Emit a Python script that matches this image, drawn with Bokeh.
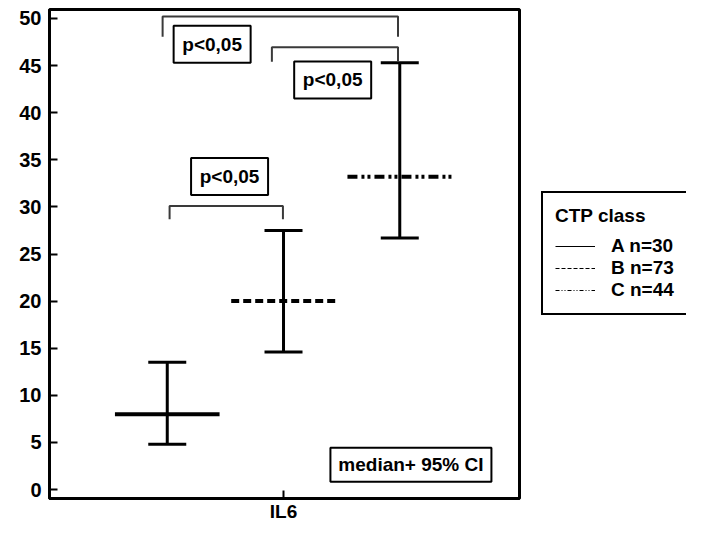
from bokeh.plotting import figure
from bokeh.layouts import row
from bokeh.models import (ColumnDataSource, Range1d, FixedTicker, Whisker, TeeHead,
                          Legend, LegendItem)
from bokeh.core.properties import value
from bokeh.embed import file_html
from bokeh.resources import INLINE

# ---- data ----
groups = ["A", "B", "C"]
group_n = [30, 73, 44]
group_pos = [1, 2, 3]
medians = [8.0, 20.0, 33.2]
ci_low = [4.8, 14.6, 26.7]
ci_high = [13.5, 27.5, 45.3]
category_label = "IL6"
legend_title = "CTP class"
y_ticks = [0, 5, 10, 15, 20, 25, 30, 35, 40, 45, 50]

# significance brackets
br_left = [0.96, 1.90, 1.02]
br_right = [2.985, 2.985, 1.995]
br_top = [50.2, 46.95, 30.1]
br_drop_left = [48.05, 45.4, 28.7]
br_drop_right = [48.05, 45.4, 28.7]
p_text = ["p<0,05", "p<0,05", "p<0,05"]
p_x = [1.386, 2.423, 1.536]
p_y = [47.27, 43.47, 33.23]
note_text = ["median+ 95% CI"]
note_x = [3.096]
note_y = [2.62]

FONT = "Liberation Sans"
H = 524

p = figure(width=522, height=H, output_backend="svg", toolbar_location=None,
           x_range=Range1d(-0.013, 4.03), y_range=Range1d(-0.95, 50.95),
           min_border_left=49, min_border_top=9, min_border_bottom=25,
           min_border_right=3)
p.grid.visible = False
p.outline_line_color = "black"
p.outline_line_width = 3
p.background_fill_color = "white"

# axes
for ax in (p.xaxis[0], p.yaxis[0]):
    ax.axis_line_width = 3
    ax.axis_line_color = "black"
    ax.major_tick_in = 8
    ax.major_tick_out = 0
    ax.major_tick_line_width = 2
    ax.minor_tick_line_color = None
    ax.major_label_text_font = FONT
    ax.major_label_text_font_style = "bold"
    ax.major_label_text_color = "black"
p.yaxis.major_label_text_font_size = "20px"
p.xaxis.major_label_text_font_size = "19px"
p.yaxis.ticker = FixedTicker(ticks=y_ticks)
p.yaxis.major_label_standoff = 8
p.xaxis.ticker = FixedTicker(ticks=[group_pos[1]])
p.xaxis.major_label_overrides = {group_pos[1]: category_label}
p.xaxis.major_label_standoff = 2

# confidence intervals
src = ColumnDataSource(dict(x=group_pos, lo=ci_low, hi=ci_high, m=medians))
wh = Whisker(source=src, base="x", lower="lo", upper="hi", dimension="height",
             line_width=3, line_color="black",
             upper_head=TeeHead(size=38, line_width=3, line_color="black"),
             lower_head=TeeHead(size=38, line_width=3, line_color="black"))
p.add_layout(wh)

# medians
dashes = ["solid", "8 4", "10 4 3 3 3 4"]
half = 0.45
for i in range(len(groups)):
    s = ColumnDataSource(dict(x0=[group_pos[i] - half], x1=[group_pos[i] + half],
                              y=[medians[i]]))
    p.segment(x0="x0", x1="x1", y0="y", y1="y", source=s, line_width=4,
              line_color="black", line_dash=dashes[i])

# brackets
bxs = [[a, a, b, b] for a, b in zip(br_left, br_right)]
bys = [[dl, t, t, dr] for dl, t, dr in zip(br_drop_left, br_top, br_drop_right)]
p.multi_line(xs=bxs, ys=bys, line_color="#3a3a3a", line_width=2)

# p-value boxes
p.rect(x=p_x, y=p_y, width=77, height=37, width_units="screen",
       height_units="screen", fill_color="white", line_color="black", line_width=2)
p.text(x=p_x, y=p_y, text=p_text, text_align="center", text_baseline="middle",
       text_font=value(FONT), text_font_style="bold", text_font_size="19px",
       text_color="black")

# note box
p.rect(x=note_x, y=note_y, width=161, height=34, width_units="screen",
       height_units="screen", fill_color="white", line_color="black", line_width=2)
p.text(x=note_x, y=note_y, text=note_text, text_align="center", text_baseline="middle",
       text_font=value(FONT), text_font_style="bold", text_font_size="19px",
       text_color="black")

# legend panel (separate figure to the right of the plot)
lf = figure(width=164, height=H, output_backend="svg", toolbar_location=None,
            x_range=Range1d(0, 1), y_range=Range1d(0, 1),
            x_axis_type=None, y_axis_type=None,
            min_border_left=0, min_border_right=0, min_border_top=0,
            min_border_bottom=0)
lf.grid.visible = False
lf.outline_line_color = None
leg_dashes = ["solid", "4 2", "4 2 1 2 1 2"]
items = []
for i, g in enumerate(groups):
    r = lf.line(x=[group_pos[i], group_pos[i]], y=[ci_low[i], ci_high[i]],
                line_color="black", line_width=1.2, line_dash=leg_dashes[i],
                visible=False)
    items.append(LegendItem(label=f"{g} n={group_n[i]}", renderers=[r]))
legend = Legend(items=items, title=legend_title, location=(19, 183),
                border_line_color="black", border_line_width=2, border_line_alpha=1,
                background_fill_color="white", background_fill_alpha=1,
                padding=12, spacing=0, glyph_width=40, glyph_height=20,
                label_standoff=16, label_width=63, label_height=20,
                label_text_font=FONT, label_text_font_style="bold",
                label_text_font_size="19px", label_text_color="black",
                title_text_font=FONT, title_text_font_style="bold",
                title_text_font_size="19px", title_text_color="black",
                title_standoff=8, margin=0, click_policy="none")
lf.add_layout(legend)

open("out.html", "w").write(file_html(row(p, lf), INLINE))
